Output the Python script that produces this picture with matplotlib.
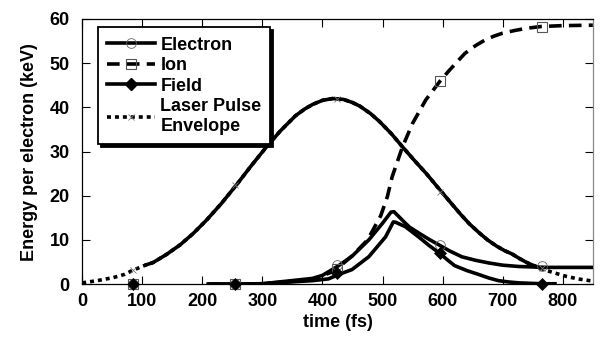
import numpy as np
import matplotlib
matplotlib.use("Agg")
import matplotlib.pyplot as plt
from matplotlib.lines import Line2D

plt.rcParams['font.family'] = ['Liberation Sans', 'DejaVu Sans']
plt.rcParams['font.weight'] = 'bold'

# ---------------- data ----------------
laser_t = [0, 25, 52, 70, 85, 107, 118, 140, 163, 185, 207, 232, 257, 282, 307,
           330, 355, 370, 384, 400, 417, 435, 450, 462, 480, 495, 515, 533, 553,
           573, 600, 615, 630, 645, 661, 675, 690, 703, 716, 728, 740, 750, 761,
           773, 785, 805, 825, 850]
laser_v = [0.3, 0.8, 1.5, 2.2, 3.2, 4.4, 4.9, 6.7, 8.9, 11.5, 14.5, 18.3, 22.5,
           26.9, 31.1, 34.7, 38.1, 39.6, 40.7, 41.6, 42.0, 41.8, 41.1, 40.3, 38.6,
           36.8, 34.0, 31.1, 28.0, 25.0, 20.6, 18.2, 15.8, 13.6, 11.6, 10.0, 8.6,
           7.6, 6.8, 5.8, 4.9, 4.3, 3.7, 3.1, 2.6, 1.8, 1.2, 0.7]

elec_t = [210, 300, 383, 400, 427, 449, 477, 500, 514, 519, 538, 545, 560, 578,
          595, 612, 632, 655, 677, 700, 727, 750, 775, 850]
elec_v = [0, 0.1, 1.3, 2.0, 4.2, 6.3, 10.0, 13.8, 16.3, 16.4, 13.8, 12.9, 11.6,
          10.1, 8.8, 7.5, 6.2, 5.4, 4.8, 4.3, 4.0, 3.9, 3.8, 3.8]

field_t = [210, 300, 383, 410, 427, 449, 477, 505, 518, 522, 538, 560, 578, 595,
           608, 620, 640, 660, 677, 693, 710, 727, 765, 787]
field_v = [0, 0.1, 0.8, 1.2, 2.2, 3.3, 6.2, 10.7, 14.1, 14.0, 13.0, 10.7, 8.7,
           7.0, 5.5, 4.2, 3.1, 2.2, 1.4, 0.8, 0.5, 0.3, 0.1, 0.1]

ion_t = [210, 300, 383, 420, 450, 475, 497, 508, 516, 533, 550, 572, 596, 610,
         622, 637, 655, 670, 685, 700, 720, 740, 764, 800, 850]
ion_v = [0, 0.1, 1.0, 3.0, 6.5, 10.0, 15.5, 19.8, 24.3, 31.0, 36.4, 41.7, 46.0,
         48.2, 50.0, 52.2, 54.0, 55.2, 56.1, 56.8, 57.4, 57.9, 58.3, 58.5, 58.6]

marker_t = [85, 255, 425, 595, 765]
elec_m = [0, 0, 4.4, 8.8, 4.2]
ion_m = [0, 0, 3.5, 46.0, 58.3]
field_m = [0, 0, 2.5, 7.0, 0.1]
laser_m = [3.2, 22.5, 41.9, 20.8, 3.7]

xticks = [0, 100, 200, 300, 400, 500, 600, 700, 800]
yticks = [0, 10, 20, 30, 40, 50, 60]

# ---------------- figure ----------------
fig = plt.figure(figsize=(6.0, 3.41), dpi=100)
ax = fig.add_axes([0.137, 0.1666, 0.851, 0.7777])

lw = 2.6
lt = np.array(laser_t, float)
lv = np.array(laser_v, float)
mid = np.where((lt >= 107) & (lt <= 761), lv, np.nan)

ax.plot(lt, lv, color='black', lw=lw, linestyle=(0, (1.1, 1.1)),
        dash_capstyle='butt', zorder=2)
ax.plot(lt, mid, color='black', lw=lw, zorder=2, solid_joinstyle='round')
ax.plot(ion_t, ion_v, color='black', lw=lw, linestyle=(0, (3.5, 2.0)), zorder=3)
ax.plot(field_t, field_v, color='black', lw=lw, zorder=3, solid_joinstyle='round')
ax.plot(elec_t, elec_v, color='black', lw=lw, zorder=3, solid_joinstyle='round')

ax.plot(marker_t, laser_m, linestyle='none', marker='x', ms=4, mew=0.6,
        color='#777777', zorder=4, clip_on=False)
ax.plot(marker_t, ion_m, linestyle='none', marker='s', ms=7, mew=0.8,
        mfc='none', mec='#555555', zorder=4, clip_on=False)
ax.plot(marker_t, field_m, linestyle='none', marker='D', ms=6, mew=0.5,
        mfc='black', mec='black', zorder=5, clip_on=False)
ax.plot(marker_t, elec_m, linestyle='none', marker='o', ms=7, mew=0.6,
        mfc='none', mec='#666666', zorder=4, clip_on=False)

ax.set_xlim(0, 850)
ax.set_ylim(0, 60)
ax.set_xticks(xticks)
ax.set_yticks(yticks)
ax.tick_params(axis='both', which='both', direction='in', length=6, width=0.8,
               top=True, right=True, labelsize=13)
ax.tick_params(axis='x', pad=6)
ax.tick_params(axis='y', pad=9)
for lab in ax.get_xticklabels() + ax.get_yticklabels():
    lab.set_fontweight('bold')
for side in ['left', 'bottom', 'top']:
    ax.spines[side].set_linewidth(0.9)
    ax.spines[side].set_color('black')
ax.spines['right'].set_linewidth(0.9)
ax.spines['right'].set_color('#888888')

ax.set_xlabel('time (fs)', fontsize=13, fontweight='bold', labelpad=3)
ax.set_ylabel('Energy per electron (keV)', fontsize=13, fontweight='bold', labelpad=8)

handles = [
    Line2D([], [], color='black', lw=lw, marker='o', ms=7, mew=0.6,
           mfc='none', mec='#666666'),
    Line2D([], [], color='black', lw=lw, linestyle=(0, (3.5, 2.0)), marker='s',
           ms=7, mew=0.8, mfc='none', mec='#555555'),
    Line2D([], [], color='black', lw=lw, marker='D', ms=6, mfc='black', mec='black'),
    Line2D([], [], color='black', lw=lw, linestyle=(0, (1.1, 1.1)), marker='x',
           ms=4, mew=0.6, mec='#777777'),
]
labels = ['Electron', 'Ion', 'Field', 'Laser Pulse\nEnvelope']
leg = ax.legend(handles, labels, loc='upper left', bbox_to_anchor=(0.031, 0.968),
                borderaxespad=0, frameon=True, fancybox=False,
                shadow={'color': 'black', 'alpha': 1.0},
                prop={'size': 13, 'weight': 'bold'}, handlelength=2.65,
                handletextpad=0.3, labelspacing=0.2, borderpad=0.5,
                numpoints=1)
leg.get_frame().set_edgecolor('black')
leg.get_frame().set_linewidth(1.3)
leg.get_frame().set_alpha(1)
leg.set_zorder(10)

fig.savefig('out.png', dpi=100)
